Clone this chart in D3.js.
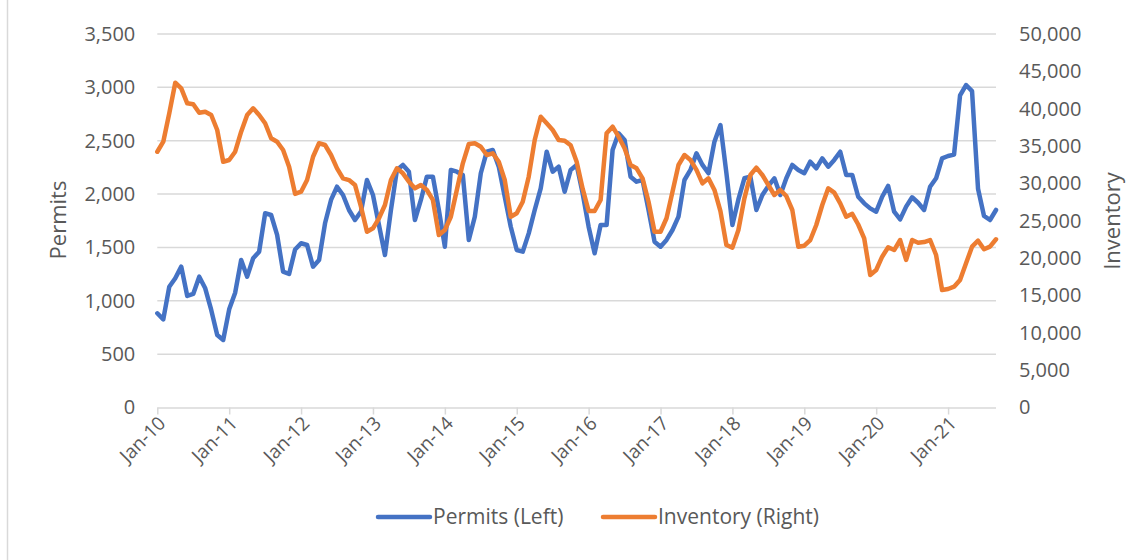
<!DOCTYPE html>
<html>
<head>
<meta charset="utf-8">
<script src="https://cdn.jsdelivr.net/npm/d3@7"></script>
<style>
  html, body { margin: 0; padding: 0; background: #ffffff; }
  svg { display: block; }
  text { font-family: "Open Sans", "Liberation Sans", sans-serif; fill: #595959; }
</style>
</head>
<body>
<svg id="chart" width="1145" height="560"></svg>
<script>
// Monthly building permits (left axis) and housing inventory (right axis), Jan-10 .. Sep-21
const permits = [
  883, 826, 1132, 1211, 1320, 1045, 1064, 1226, 1117, 914, 679, 633,
  920, 1076, 1382, 1226, 1398, 1460, 1820, 1804, 1617, 1273, 1251, 1480,
  1539, 1523, 1320, 1382, 1726, 1945, 2069, 1991, 1851, 1757, 1835, 2132,
  1991, 1710, 1429, 1851, 2226, 2273, 2210, 1757, 1945, 2163, 2163, 1851,
  1507, 2226, 2210, 2179, 1570, 1788, 2195, 2397, 2413, 2257, 1975, 1694,
  1476, 1460, 1632, 1851, 2054, 2397, 2210, 2257, 2022, 2226, 2273, 2007,
  1694, 1445, 1710, 1710, 2413, 2570, 2507, 2163, 2116, 2132, 1851, 1554,
  1507, 1570, 1663, 1788, 2132, 2226, 2382, 2273, 2195, 2491, 2647, 2195,
  1710, 1950, 2148, 2163, 1851, 1991, 2076, 2148, 1991, 2148, 2273, 2226,
  2195, 2304, 2241, 2335, 2257, 2320, 2397, 2179, 2179, 1975, 1913, 1866,
  1835, 1975, 2076, 1835, 1763, 1882, 1970, 1919, 1851, 2069, 2148, 2335,
  2357, 2370, 2925, 3022, 2965, 2050, 1795, 1757, 1851
];

const inventory = [
  34240, 35580, 39380, 43480, 42730, 40720, 40590, 39460, 39600, 39160, 37150, 32900,
  33130, 34240, 36920, 39160, 40050, 39160, 38050, 36040, 35580, 34470, 32240, 28600,
  28890, 30450, 33570, 35370, 35140, 33800, 32020, 30680, 30450, 29790, 26880, 23530,
  23990, 25330, 27110, 30450, 32020, 31350, 30230, 29340, 29790, 29120, 27800, 23090,
  23760, 25540, 29120, 32690, 35270, 35370, 34910, 33800, 34030, 32900, 30450, 25540,
  26000, 27550, 30900, 35810, 38930, 38050, 37150, 35810, 35720, 35100, 32900, 29300,
  26300, 26300, 27780, 36710, 37590, 36250, 34700, 32460, 32020, 30680, 27550, 23530,
  23530, 25330, 28890, 32460, 33800, 33130, 31800, 30010, 30680, 29120, 26300, 21750,
  21400, 23760, 28000, 31120, 32110, 31120, 29790, 28450, 29120, 28310, 26440, 21530,
  21660, 22420, 24430, 27110, 29340, 28760, 27330, 25540, 25930, 24500, 22650, 17740,
  18410, 20190, 21450, 21080, 22420, 19750, 22420, 22060, 22150, 22420, 20410, 15730,
  15860, 16170, 17070, 19300, 21530, 22330, 21180, 21530, 22520
];

const xTickLabels = ["Jan-10", "Jan-11", "Jan-12", "Jan-13", "Jan-14", "Jan-15",
                     "Jan-16", "Jan-17", "Jan-18", "Jan-19", "Jan-20", "Jan-21"];
const leftTicks = [0, 500, 1000, 1500, 2000, 2500, 3000, 3500];
const rightTicks = [0, 5000, 10000, 15000, 20000, 25000, 30000, 35000, 40000, 45000, 50000];
const seriesNames = ["Permits (Left)", "Inventory (Right)"];
const axisTitles = ["Permits", "Inventory"];

const colors = { permits: "#4472C4", inventory: "#ED7D31", grid: "#d9d9d9" };

const svg = d3.select("#chart");
const plot = { left: 157.3, right: 996, top: 34, bottom: 407.5 };

// month index -> x (equal spacing per month)
const x = d3.scaleLinear().domain([0, permits.length - 1]).range([plot.left, plot.right]);
const yL = d3.scaleLinear().domain([0, 3500]).range([plot.bottom, plot.top]);
const yR = d3.scaleLinear().domain([0, 50000]).range([plot.bottom, plot.top]);
const fmt = d3.format(",");

// chart area border on the left edge
svg.append("line")
  .attr("x1", 7.5).attr("x2", 7.5).attr("y1", 0).attr("y2", 560)
  .attr("stroke", colors.grid).attr("stroke-width", 1.5);

// horizontal gridlines from the left axis
svg.append("g")
  .selectAll("line")
  .data(leftTicks.slice(1))
  .join("line")
  .attr("x1", plot.left).attr("x2", plot.right)
  .attr("y1", d => yL(d)).attr("y2", d => yL(d))
  .attr("stroke", colors.grid).attr("stroke-width", 1.5);

// left axis labels
const gL = svg.append("g")
  .attr("transform", `translate(${plot.left},0)`)
  .call(d3.axisLeft(yL).tickValues(leftTicks).tickFormat(fmt).tickSize(0).tickPadding(22));
gL.select(".domain").remove();
gL.selectAll("text").attr("font-size", 20).style("font-family", "'Open Sans'").attr("fill", "#595959");

// right axis labels
const gR = svg.append("g")
  .attr("transform", `translate(${plot.right},0)`)
  .call(d3.axisRight(yR).tickValues(rightTicks).tickFormat(fmt).tickSize(0).tickPadding(23));
gR.select(".domain").remove();
gR.selectAll("text").attr("font-size", 20).style("font-family", "'Open Sans'").attr("fill", "#595959");

// bottom axis with yearly ticks
const yearIdx = xTickLabels.map((_, i) => i * 12);
const gX = svg.append("g")
  .attr("transform", `translate(0,${plot.bottom})`)
  .call(d3.axisBottom(x).tickValues(yearIdx).tickFormat((d, i) => xTickLabels[i]).tickSize(7).tickSizeOuter(0));
gX.select(".domain").attr("stroke", colors.grid).attr("stroke-width", 1.5)
  .attr("d", `M${plot.left},0.5H${plot.right}`);
gX.selectAll(".tick line").attr("stroke", colors.grid).attr("stroke-width", 1.5);
gX.selectAll("text")
  .attr("font-size", 19)
  .style("font-family", "'Open Sans'")
  .attr("fill", "#595959")
  .attr("text-anchor", "end")
  .attr("x", 0).attr("y", 0).attr("dy", 0)
  .attr("transform", "translate(9,17) rotate(-45)");

// series lines
const linePermits = d3.line().x((d, i) => x(i)).y(d => yL(d));
const lineInventory = d3.line().x((d, i) => x(i)).y(d => yR(d));

svg.append("path")
  .datum(permits)
  .attr("d", linePermits)
  .attr("fill", "none")
  .attr("stroke", colors.permits)
  .attr("stroke-width", 4.5)
  .attr("stroke-linejoin", "round")
  .attr("stroke-linecap", "round");

svg.append("path")
  .datum(inventory)
  .attr("d", lineInventory)
  .attr("fill", "none")
  .attr("stroke", colors.inventory)
  .attr("stroke-width", 4.5)
  .attr("stroke-linejoin", "round")
  .attr("stroke-linecap", "round");

// axis titles
svg.append("text")
  .attr("transform", "translate(66,220) rotate(-90)")
  .attr("text-anchor", "middle")
  .attr("font-size", 22)
  .text(axisTitles[0]);

svg.append("text")
  .attr("transform", "translate(1120,221) rotate(-90)")
  .attr("text-anchor", "middle")
  .attr("font-size", 22)
  .text(axisTitles[1]);

// legend
const legendItems = [
  { name: seriesNames[0], color: colors.permits, x0: 378 },
  { name: seriesNames[1], color: colors.inventory, x0: 603 }
];
const lg = svg.append("g");
legendItems.forEach(it => {
  lg.append("line")
    .attr("x1", it.x0).attr("x2", it.x0 + 52)
    .attr("y1", 517).attr("y2", 517)
    .attr("stroke", it.color).attr("stroke-width", 4.5).attr("stroke-linecap", "round");
  lg.append("text")
    .attr("x", it.x0 + 55).attr("y", 517).attr("dy", "0.35em")
    .attr("font-size", 21)
    .text(it.name);
});
</script>
</body>
</html>
